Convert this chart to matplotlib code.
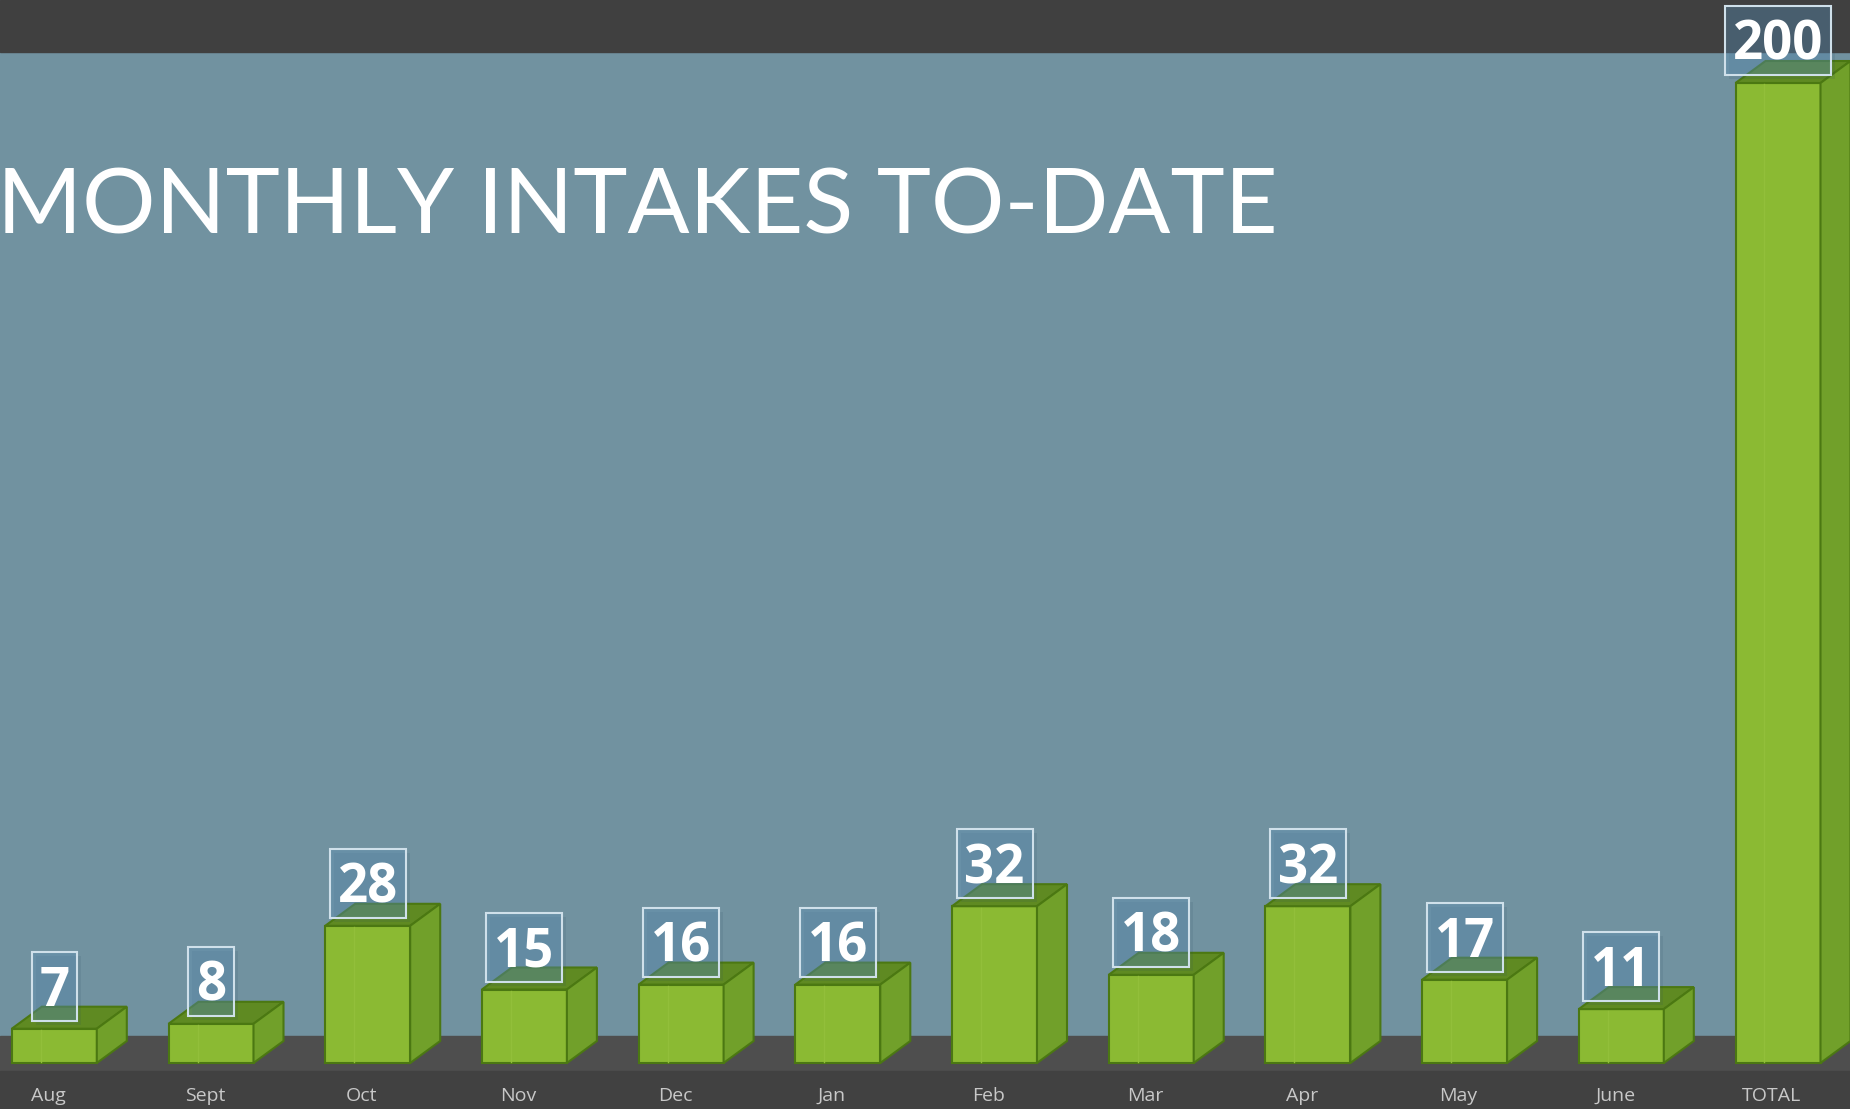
import matplotlib
matplotlib.use('Agg')
import matplotlib.pyplot as plt
from matplotlib.patches import Rectangle, Polygon
from matplotlib import font_manager

# data
months = ['Aug', 'Sept', 'Oct', 'Nov', 'Dec', 'Jan', 'Feb', 'Mar', 'Apr', 'May', 'June', 'TOTAL']
intakes = [7, 8, 28, 15, 16, 16, 32, 18, 32, 17, 11, 200]
title = 'MONTHLY INTAKES TO-DATE'

W, H = 1850, 1109
avail = {f.name for f in font_manager.fontManager.ttflist}
title_font = 'Liberation Sans Narrow' if 'Liberation Sans Narrow' in avail else 'Lato'
num_font = 'Open Sans' if 'Open Sans' in avail else 'DejaVu Sans'

# pixel geometry of the drawing
base_px = 1063           # bar bottom, from top of image
unit_px = 4.9            # pixels per intake
pitch_px = 156.7         # distance between bars
first_px = 54.3          # centre of first bar front
bar_w = 85 / pitch_px
dx = 30 / pitch_px
dy = 22 / unit_px

fig = plt.figure(figsize=(W / 100, H / 100), dpi=100)
fig.patch.set_facecolor('#7192a0')
ax = fig.add_axes([0, 0, 1, 1])
ax.set_xlim(-first_px / pitch_px, (W - first_px) / pitch_px)
ax.set_ylim(-(H - base_px) / unit_px, base_px / unit_px)
ax.axis('off')

# bands
ax.add_patch(Rectangle((0, 1 - 52 / H), 1, 52 / H, transform=ax.transAxes,
                       color='#404040', zorder=0))
ax.add_patch(Rectangle((0, (H - 1071) / H), 1, 35 / H, transform=ax.transAxes,
                       color='#4e4e4e', zorder=0))
ax.add_patch(Rectangle((0, 0), 1, (H - 1071) / H, transform=ax.transAxes,
                       color='#414141', zorder=0))

edge = '#4b7812'
for i, v in enumerate(intakes):
    x0 = i - bar_w / 2
    ax.bar(i, v, width=bar_w, color='#8bba33', edgecolor=edge, linewidth=1.5, zorder=2)
    top = [(x0, v), (x0 + dx, v + dy), (x0 + bar_w + dx, v + dy), (x0 + bar_w, v)]
    side = [(x0 + bar_w, 0), (x0 + bar_w + dx, dy), (x0 + bar_w + dx, v + dy), (x0 + bar_w, v)]
    ax.add_patch(Polygon(top, closed=True, facecolor='#5f8a22', edgecolor=edge, lw=1.5, zorder=2))
    ax.add_patch(Polygon(side, closed=True, facecolor='#71a02a', edgecolor=edge, lw=1.5, zorder=2))
    # faint highlight line on the front face
    ax.plot([x0 + 29 / pitch_px] * 2, [0.3, v - 0.3], color='#92bf3a', lw=1.0, zorder=3)

    # value box
    n = len(str(v))
    bw = (15 + 30.5 * n) / pitch_px
    by = v + 8 / unit_px
    bh = 69 / unit_px
    ax.add_patch(Rectangle((i - bw / 2 + 4 / pitch_px, by - 4 / unit_px), bw, bh,
                           facecolor='#2a4a60', alpha=0.12, lw=0, zorder=3))
    ax.add_patch(Rectangle((i - bw / 2, by), bw, bh, facecolor='#5b8fb5', alpha=0.38,
                           lw=0, zorder=4))
    ax.add_patch(Rectangle((i - bw / 2, by), bw, bh, facecolor='none',
                           edgecolor='#cfe0ea', lw=1.5, zorder=4))
    ax.text(i, by + 15 / unit_px, str(v), ha='center', va='baseline',
            fontsize=38, fontweight='bold', color='white', family=num_font, zorder=5)

    ax.text(i - 6 / pitch_px, -(1101 - base_px) / unit_px, months[i], ha='center',
            va='baseline', fontsize=14, color='#c8c8c8', family=num_font, zorder=5)

# title, fitted to the width seen in the picture
t = fig.text(-3 / W, 1 - 233 / H, title, ha='left', va='baseline', fontsize=76,
             color='white', family=title_font)
fig.canvas.draw()
bb = t.get_window_extent()
t.set_fontsize(76 * 1280 / bb.width)

fig.savefig('out.png', dpi=100, facecolor=fig.get_facecolor())
